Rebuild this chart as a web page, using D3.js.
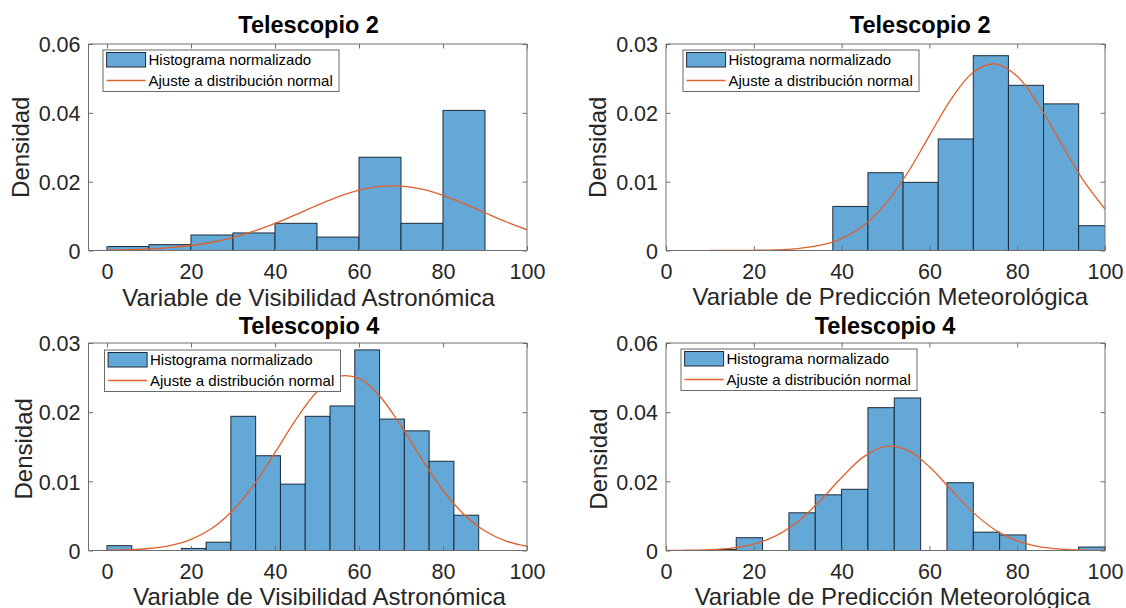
<!DOCTYPE html>
<html>
<head>
<meta charset="utf-8">
<script src="https://cdn.jsdelivr.net/npm/d3@7"></script>
<style>
  html, body { margin: 0; padding: 0; background: #ffffff; }
  svg { display: block; }
  text { font-family: "Liberation Sans", Arial, Helvetica, sans-serif; }
</style>
</head>
<body>
<svg id="chart" width="1126" height="608"></svg>
<script>
// ---------------- DATA ----------------
const titles = ["Telescopio 2", "Telescopio 2", "Telescopio 4", "Telescopio 4"];
const xLabels = ["Variable de Visibilidad Astronómica", "Variable de Predicción Meteorológica",
                 "Variable de Visibilidad Astronómica", "Variable de Predicción Meteorológica"];
const yLabel = "Densidad";
const legendLabels = ["Histograma normalizado", "Ajuste a distribución normal"];

const xTicks = [0, 20, 40, 60, 80, 100];
const yTicksA = [0, 0.02, 0.04, 0.06];
const yTicksB = [0, 0.01, 0.02, 0.03];

// Panel 1: Telescopio 2 – Visibilidad
const edges1 = [0, 10, 20, 30, 40, 50, 60, 70, 80, 90];
const density1 = [0.00115, 0.0017, 0.0045, 0.0051, 0.0079, 0.0039, 0.0271, 0.0079, 0.0407];
const fitX1 = [0, 5, 10, 15, 20, 25, 30, 35, 40, 45, 50, 55, 60, 65, 70, 75, 80, 85, 90, 95, 100];
const fitY1 = [0.00011, 0.00023, 0.00045, 0.00083, 0.00145, 0.0024, 0.00377, 0.0056, 0.00786, 0.01044,
               0.01311, 0.01558, 0.01751, 0.01861, 0.01872, 0.0178, 0.01602, 0.01363, 0.01097, 0.00836, 0.00602];

// Panel 2: Telescopio 2 – Predicción
const edges2 = [38, 46, 54, 62, 70, 78, 86, 94, 102];
const density2 = [0.0064, 0.0113, 0.0099, 0.0162, 0.0283, 0.0240, 0.0213, 0.0036];
const fitX2 = [10, 15, 20, 25, 30, 35, 40, 45, 50, 55, 60, 65, 70, 75, 80, 85, 90, 95, 100];
const fitY2 = [0.000002, 0.0000075, 0.000028, 0.000094, 0.00028, 0.00073, 0.00173, 0.00362, 0.00677, 0.01126,
               0.01669, 0.02203, 0.0259, 0.02712, 0.02531, 0.02103, 0.01557, 0.01026, 0.00603];

// Panel 3: Telescopio 4 – Visibilidad
const edges3 = [0, 5.9, 11.8, 17.7, 23.6, 29.5, 35.4, 41.3, 47.2, 53.1, 59.0, 64.9, 70.8, 76.7, 82.6, 88.5];
const density3 = [0.0007, 0, 0, 0.0003, 0.0012, 0.0194, 0.0137, 0.0096, 0.0194, 0.0209, 0.0290, 0.0190, 0.0173, 0.0129, 0.0051];
const fitX3 = [0, 5, 10, 15, 20, 25, 30, 35, 40, 45, 50, 55, 60, 65, 70, 75, 80, 85, 90, 95, 100];
const fitY3 = [0.000036, 0.000108, 0.00029, 0.00072, 0.0016, 0.00321, 0.00582, 0.00954, 0.01414, 0.01895,
               0.02295, 0.02514, 0.02488, 0.02227, 0.01802, 0.01318, 0.00871, 0.00521, 0.00281, 0.00137, 0.00061];

// Panel 4: Telescopio 4 – Predicción
const edges4 = [10, 16, 22, 28, 34, 40, 46, 52, 58, 64, 70, 76, 82, 88, 94, 100];
const density4 = [0.0003, 0.0037, 0, 0.0109, 0.0161, 0.0177, 0.0413, 0.0441, 0, 0.0196, 0.0053, 0.0045, 0, 0, 0.0010];
const fitX4 = [0, 5, 10, 15, 20, 25, 30, 35, 40, 45, 50, 55, 60, 65, 70, 75, 80, 85, 90, 95, 100];
const fitY4 = [0.000016, 0.000066, 0.00023, 0.0007, 0.00184, 0.00421, 0.00831, 0.01423, 0.02109, 0.02708,
               0.03012, 0.02901, 0.0242, 0.01749, 0.01095, 0.00594, 0.00279, 0.00113, 0.0004, 0.00012, 0.00003];

// ---------------- LAYOUT / STYLE ----------------
const panels = [
  { edges: edges1, dens: density1, fx: fitX1, fy: fitY1, xDom: [-4.4, 100], yDom: [0, 0.06], yTicks: yTicksA,
    box: { l: 88.5, r: 527, t: 44, b: 250.5 }, titleFx: 0.502, titleY: 33, xlabFx: 0.502, xlabY: 306,
    ylabX: 29, ylabFy: 0.5, leg: { dx: 14.5, dy: 6 } },
  { edges: edges2, dens: density2, fx: fitX2, fy: fitY2, xDom: [0, 100], yDom: [0, 0.03], yTicks: yTicksB,
    box: { l: 666, r: 1105, t: 44, b: 250.5 }, titleFx: 0.579, titleY: 33, xlabFx: 0.511, xlabY: 305,
    ylabX: 605.5, ylabFy: 0.5, leg: { dx: 17, dy: 6 } },
  { edges: edges3, dens: density3, fx: fitX3, fy: fitY3, xDom: [-4.4, 100], yDom: [0, 0.03], yTicks: yTicksB,
    box: { l: 88.5, r: 527, t: 343, b: 550.5 }, titleFx: 0.503, titleY: 333.5, xlabFx: 0.527, xlabY: 604.5,
    ylabX: 31.5, ylabFy: 0.51, leg: { dx: 16, dy: 7 } },
  { edges: edges4, dens: density4, fx: fitX4, fy: fitY4, xDom: [0, 100], yDom: [0, 0.06], yTicks: yTicksA,
    box: { l: 666, r: 1105, t: 343, b: 550.5 }, titleFx: 0.499, titleY: 333.5, xlabFx: 0.516, xlabY: 604.5,
    ylabX: 606.5, ylabFy: 0.559, leg: { dx: 15, dy: 6 } }
];

const barFill = "#63a8d7";
const barStroke = "#1e2c3a";
const fitColor = "#e0602c";
const axisColor = "#6f6f6f";
const textColor = "#262626";
const tickLen = 4.5;

const svg = d3.select("#chart");

function fmt(v) { return v === 0 ? "0" : d3.format(".2f")(v); }

panels.forEach((p, i) => {
  const { l, r, t, b } = p.box;
  const x = d3.scaleLinear().domain(p.xDom).range([l, r]);
  const y = d3.scaleLinear().domain(p.yDom).range([b, t]);
  const g = svg.append("g");

  const clipId = "clip" + i;
  svg.append("clipPath").attr("id", clipId)
    .append("rect").attr("x", l).attr("y", t - 1).attr("width", r - l).attr("height", b - t + 1);

  // bars
  const bins = p.dens.map((d, k) => ({ x0: p.edges[k], x1: p.edges[k + 1], d }))
    .filter(o => o.d > 0);
  g.append("g").attr("clip-path", `url(#${clipId})`)
    .selectAll("rect").data(bins).join("rect")
    .attr("x", o => x(o.x0))
    .attr("y", o => y(o.d))
    .attr("width", o => x(o.x1) - x(o.x0))
    .attr("height", o => y(0) - y(o.d))
    .attr("fill", barFill)
    .attr("stroke", barStroke)
    .attr("stroke-width", 1);

  // fit line
  const pts = p.fx.map((v, k) => [v, p.fy[k]]);
  g.append("path").datum(pts)
    .attr("clip-path", `url(#${clipId})`)
    .attr("fill", "none")
    .attr("stroke", fitColor)
    .attr("stroke-width", 1.3)
    .attr("d", d3.line().x(d => x(d[0])).y(d => y(d[1])).curve(d3.curveCatmullRom.alpha(0.5)));

  // axes
  const ax = g.append("g").attr("class", "axes");
  const bottom = ax.append("g").attr("transform", `translate(0,${b})`)
    .call(d3.axisBottom(x).tickValues(xTicks).tickSize(-tickLen).tickFormat(d3.format("d")));
  const top = ax.append("g").attr("transform", `translate(0,${t})`)
    .call(d3.axisTop(x).tickValues(xTicks).tickSize(-tickLen).tickFormat(""));
  const left = ax.append("g").attr("transform", `translate(${l},0)`)
    .call(d3.axisLeft(y).tickValues(p.yTicks).tickSize(-tickLen).tickPadding(8).tickFormat(fmt));
  const right = ax.append("g").attr("transform", `translate(${r},0)`)
    .call(d3.axisRight(y).tickValues(p.yTicks).tickSize(-tickLen).tickFormat(""));

  [bottom, top, left, right].forEach(a => {
    a.select(".domain").attr("stroke", axisColor).attr("stroke-width", 1);
    a.selectAll(".tick line").attr("stroke", axisColor).attr("stroke-width", 1);
    a.selectAll(".tick text").attr("fill", textColor).style("font-size", "21.5px")
      .style("font-family", '"Liberation Sans", Arial, sans-serif');
  });
  [bottom, top].forEach(a => a.select(".domain").attr("d", `M${l},0H${r}`));
  [left, right].forEach(a => a.select(".domain").attr("d", `M0,${b}V${t}`));
  bottom.selectAll(".tick text").attr("dy", "0").attr("y", 28);
  left.selectAll(".tick text").attr("dy", "0.36em");

  // title
  g.append("text")
    .attr("x", l + p.titleFx * (r - l)).attr("y", p.titleY)
    .attr("text-anchor", "middle")
    .style("font-size", "23.5px").style("font-weight", "bold").attr("fill", "#000")
    .text(titles[i]);

  // x label
  g.append("text")
    .attr("x", l + p.xlabFx * (r - l)).attr("y", p.xlabY)
    .attr("text-anchor", "middle")
    .style("font-size", "24px").attr("fill", textColor)
    .text(xLabels[i]);

  // y label
  const yc = t + p.ylabFy * (b - t);
  g.append("text")
    .attr("transform", `translate(${p.ylabX},${yc}) rotate(-90)`)
    .attr("text-anchor", "middle")
    .style("font-size", "24px").attr("fill", textColor)
    .text(yLabel);

  // legend
  const lg = g.append("g").attr("transform", `translate(${l + p.leg.dx},${t + p.leg.dy})`);
  lg.append("rect").attr("x", 0).attr("y", 0).attr("width", 236).attr("height", 41.5)
    .attr("fill", "#fff").attr("stroke", "#6a6a6a").attr("stroke-width", 1);
  lg.append("rect").attr("x", 3.6).attr("y", 2.5).attr("width", 39).attr("height", 14.5)
    .attr("fill", barFill).attr("stroke", barStroke).attr("stroke-width", 1);
  lg.append("line").attr("x1", 3.6).attr("x2", 42.6).attr("y1", 30.5).attr("y2", 30.5)
    .attr("stroke", fitColor).attr("stroke-width", 1.3);
  lg.selectAll("text.leg").data(legendLabels).join("text").attr("class", "leg")
    .attr("x", 45.5).attr("y", (d, k) => (k === 0 ? 10 : 30.5))
    .attr("dy", "0.36em")
    .style("font-size", "15px").attr("fill", "#000")
    .text(d => d);
});
</script>
</body>
</html>
